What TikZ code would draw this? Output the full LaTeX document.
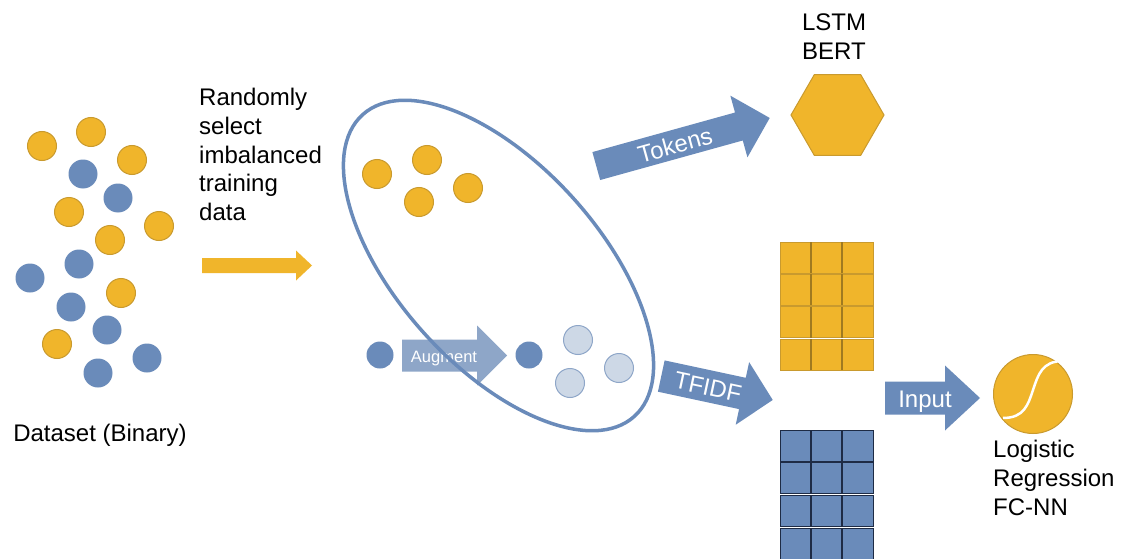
\documentclass[tikz,border=0pt]{standalone}
\usepackage{fontspec}
\setmainfont{Liberation Sans}
\usetikzlibrary{shapes.geometric}
\definecolor{gold}{HTML}{F0B52B}
\definecolor{goldline}{HTML}{C99A2E}
\definecolor{golddark}{HTML}{A07A20}
\definecolor{steel}{HTML}{6A8BBA}
\definecolor{steellight}{HTML}{CDD8E6}
\definecolor{steelmid}{HTML}{8EA6C8}
\definecolor{navy}{HTML}{1E2B45}
\newcommand\blockarr[8]{%
  \begin{scope}[shift={(#1,#2)}, rotate=#3]
    \fill[#8] ({-#4/2},{-#5}) -- ({#4/2-#7},{-#5}) -- ({#4/2-#7},{-#6}) -- ({#4/2},0)
      -- ({#4/2-#7},{#6}) -- ({#4/2-#7},{#5}) -- ({-#4/2},{#5}) -- cycle;
  \end{scope}}
\begin{document}
\begin{tikzpicture}[x=1pt,y=-1pt,
  ydot/.style={circle, fill=gold, draw=goldline, line width=1pt, minimum size=29pt, inner sep=0},
  bdot/.style={circle, fill=steel, minimum size=29pt, inner sep=0},
  lbdot/.style={circle, fill=steellight, draw=steelmid, line width=1pt, minimum size=29pt, inner sep=0},
  txt/.style={font=\fontsize{24}{28.8}\selectfont, inner sep=0, text=black},
  arrtxt/.style={font=\fontsize{24}{28.8}\selectfont, inner sep=0, text=white},
  rowline/.style={line width=1pt},
]
\useasboundingbox[fill=white] (0,0) rectangle (1121,559);

% dataset
\node[ydot] (y1) at (42,146) {};
\node[ydot] (y2) at (91,132) {};
\node[ydot] (y3) at (132,160) {};
\node[ydot] (y4) at (69,212) {};
\node[ydot] (y5) at (159,226) {};
\node[ydot] (y6) at (110,240) {};
\node[ydot] (y7) at (121,293) {};
\node[ydot] (y8) at (57,344) {};
\node[bdot] (b1) at (83,174) {};
\node[bdot] (b2) at (118,198) {};
\node[bdot] (b3) at (79,264) {};
\node[bdot] (b4) at (30,278) {};
\node[bdot] (b5) at (71,307) {};
\node[bdot] (b6) at (107,330) {};
\node[bdot] (b7) at (147,358) {};
\node[bdot] (b8) at (98,373) {};
\node[txt, anchor=base] (dslbl) at (100,441) {Dataset (Binary)};

% select text and arrow
\node[txt, anchor=north west, align=left] (sel) at (199,88) {Randomly\\select\\imbalanced\\training\\data};
\blockarr{257}{265.5}{0}{110}{7.5}{15}{16}{gold}

% inside ellipse
\node[ydot] (e1) at (377,174) {};
\node[ydot] (e2) at (427,160) {};
\node[ydot] (e3) at (419,202) {};
\node[ydot] (e4) at (468,188) {};
\node[bdot, minimum size=27pt] (m1) at (380,355) {};
\blockarr{454.5}{355.5}{0}{105}{16}{30}{30}{steelmid}
\node[arrtxt, font=\fontsize{16.5}{20}\selectfont, anchor=base] (aug) at (444,362) {Augment};
\node[bdot, minimum size=27pt] (m2) at (529,355) {};
\node[lbdot] (l1) at (578,340) {};
\node[lbdot] (l2) at (570,383) {};
\node[lbdot] (l3) at (619,368) {};
\draw[steel, line width=3.5pt, rotate around={-48:(498.5,265.5)}] (498.5,265.5) ellipse [x radius=203, y radius=100.6];

% tokens branch
\blockarr{683}{142}{15.5}{180}{14.5}{32}{32}{steel}
\node[arrtxt, rotate=15.5] (tok) at (675,145) {Tokens};
\node[regular polygon, regular polygon sides=6, minimum size=93pt, inner sep=0, fill=gold, draw=goldline, line width=1pt] (hex) at (837.5,115) {};
\node[txt, anchor=north, align=center] (models) at (834,14) {LSTM\\BERT};

% tfidf branch
\blockarr{717}{388}{-12.1}{114}{16}{32}{31}{steel}
\node[arrtxt, rotate=-12.1] (tfidf) at (708,387) {TFIDF};
\foreach \t in {242,274.3,306.6,339}{
  \fill[gold] (780,\t) rectangle (873,\t+31);
  \draw[goldline, rowline] (780,\t) rectangle (873,\t+31);
  \draw[golddark, line width=1.6pt] (811,\t) -- (811,\t+31) (842,\t) -- (842,\t+31);
}
\foreach \t in {430,462.7,495.4,528}{
  \fill[steel] (780,\t) rectangle (873,\t+31);
  \draw[navy, rowline] (780,\t) rectangle (873,\t+31);
  \draw[navy, line width=1.6pt] (811,\t) -- (811,\t+31) (842,\t) -- (842,\t+31);
}

% input and classifier
\blockarr{932.5}{398}{0}{95}{16.5}{32.5}{35}{steel}
\node[arrtxt, anchor=base] (inp) at (925,407) {Input};
\node[circle, fill=gold, draw=goldline, line width=1pt, minimum size=79pt, inner sep=0] (lr) at (1033,394) {};
\draw[white, line width=2.5pt] (1003,418) .. controls (1024,418) and (1028,405) .. (1033,390) .. controls (1038,375) and (1042,361) .. (1063,361);
\node[txt, anchor=north west, align=left] (clf) at (993,440) {Logistic\\Regression\\FC-NN};
\end{tikzpicture}
\end{document}
